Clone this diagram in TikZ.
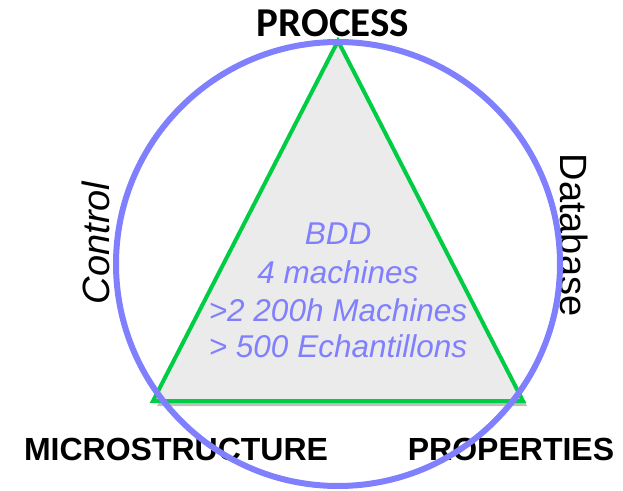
\documentclass[tikz,border=0pt]{standalone}
\usepackage{fontspec}
\setmainfont{Liberation Sans}
\newfontfamily\calibrifont{Carlito}
\usetikzlibrary{shadows}
\definecolor{ringblue}{HTML}{8080FF}
\definecolor{trigreen}{HTML}{00CC44}
\definecolor{trigray}{HTML}{EBEBEB}
\begin{document}
\begin{tikzpicture}[x=1pt, y=1pt,
    corner/.style={font=\bfseries\fontsize{32}{32}\selectfont, inner sep=0pt},
    side/.style={font=\fontsize{38}{38}\selectfont, inner sep=0pt},
    bddline/.style={text=ringblue, font=\itshape\fontsize{31.5}{31.5}\selectfont, anchor=base, inner sep=0pt}]
    \useasboundingbox (0,0) rectangle (623,490);

    % Corners of the triangle
    \coordinate (top) at (338,449);
    \coordinate (left) at (153,89);
    \coordinate (right) at (523,89);

    % Draw the triangle
    \draw[trigreen, line width=4pt, fill=trigray,
        drop shadow={shadow xshift=4pt, shadow yshift=-5pt, opacity=0.25, fill=black}]
        (top) -- (left) -- (right) -- cycle;

    % Text inside the triangle
    \node[bddline] (bdd) at (338,245) {BDD};
    \node[bddline] (machines) at (338,206) {4 machines};
    \node[bddline] (hours) at (338,168) {>2 200h Machines};
    \node[bddline] (samples) at (338,132) {> 500 Echantillons};

    % Labels for the corners
    \node[corner, font=\calibrifont\bfseries\fontsize{41}{41}\selectfont] (process) at (333,467) {PROCESS};
    \node[corner] (micro) at (176,41) {MICROSTRUCTURE};
    \node[corner] (props) at (511,41) {PROPERTIES};

    % Labels for the sides
    \node[side, font=\itshape\fontsize{38}{38}\selectfont, rotate=90] (control) at (96,247) {Control};
    \node[side, rotate=-90] (database) at (574,255) {Database};

    % Draw the circle
    \draw[ringblue, line width=6pt] (338,226) circle (222);
\end{tikzpicture}
\end{document}
